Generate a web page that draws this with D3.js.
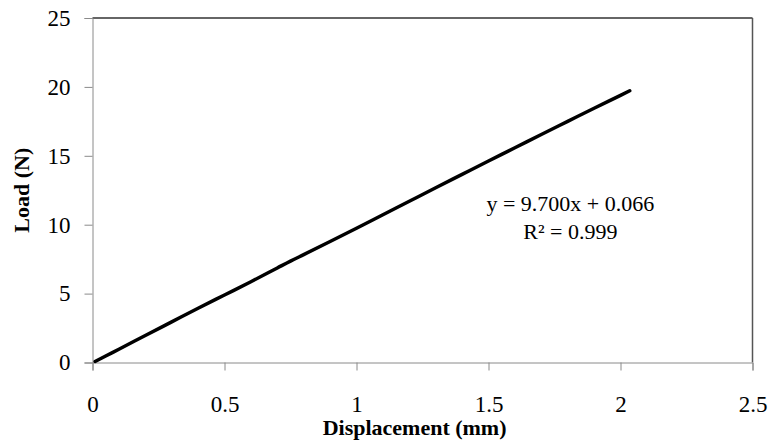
<!DOCTYPE html>
<html>
<head>
<meta charset="utf-8">
<script src="https://cdn.jsdelivr.net/npm/d3@7"></script>
<style>
  body { margin: 0; background: #fff; }
  text { font-family: "Liberation Serif", "Times New Roman", serif; fill: #000; }
</style>
</head>
<body>
<svg id="chart" width="768" height="441"></svg>
<script>
var displacement = [0.01, 0.05, 0.1, 0.2, 0.3, 0.4, 0.5, 0.6, 0.7, 0.75, 0.8, 0.9, 1.0,
                    1.1, 1.2, 1.3, 1.4, 1.5, 1.6, 1.7, 1.8, 1.9, 2.0, 2.035];
var load = [0.07, 0.47, 0.96, 1.96, 2.95, 3.94, 4.9, 5.86, 6.86, 7.36, 7.83, 8.78, 9.74,
            10.72, 11.7, 12.68, 13.65, 14.62, 15.58, 16.55, 17.5, 18.45, 19.39, 19.72];
var xTicks = [0, 0.5, 1, 1.5, 2, 2.5];
var yTicks = [0, 5, 10, 15, 20, 25];
var equation = ["y = 9.700x + 0.066", "R\u00b2 = 0.999"];

var svg = d3.select("#chart");
var margin = {top: 18, right: 15.5, bottom: 78.5, left: 92.5},
    width = 768 - margin.left - margin.right,
    height = 441 - margin.top - margin.bottom;

var x = d3.scaleLinear().domain([0, 2.5]).range([0, width]);
var y = d3.scaleLinear().domain([0, 25]).range([height, 0]);

var g = svg.append("g")
  .attr("transform", "translate(" + margin.left + "," + margin.top + ")");

// frame: top and right borders darker
g.append("line").attr("x1", 0).attr("x2", width).attr("y1", 0).attr("y2", 0)
  .attr("stroke", "#333").attr("stroke-width", 1.5);
g.append("line").attr("x1", width).attr("x2", width).attr("y1", 0).attr("y2", height)
  .attr("stroke", "#555").attr("stroke-width", 1.5);

// axes
var xAxis = g.append("g")
  .attr("transform", "translate(0," + height + ")")
  .call(d3.axisBottom(x).tickValues(xTicks).tickSize(8).tickPadding(25)
    .tickFormat(function(d) { return d; }));
var yAxis = g.append("g")
  .call(d3.axisLeft(y).tickValues(yTicks).tickSize(8).tickPadding(14));

[xAxis, yAxis].forEach(function(a) {
  a.select(".domain").attr("stroke", "#8a8a8a");
  a.selectAll(".tick line").attr("stroke", "#8a8a8a");
  a.selectAll("text").attr("font-size", 23).attr("font-family", "Liberation Serif");
});
xAxis.selectAll("text").attr("dy", "0.71em");

// data line
var line = d3.line()
  .x(function(d) { return x(d[0]); })
  .y(function(d) { return y(d[1]); })
  .curve(d3.curveMonotoneX);
g.append("path")
  .datum(d3.zip(displacement, load))
  .attr("d", line)
  .attr("fill", "none")
  .attr("stroke", "#000")
  .attr("stroke-width", 3.5)
  .attr("stroke-linecap", "round")
  .attr("stroke-linejoin", "round");

// trendline equation
g.selectAll(".eq")
  .data(equation)
  .enter().append("text")
  .attr("class", "eq")
  .attr("text-anchor", "middle")
  .attr("x", x(1.81))
  .attr("y", function(d, i) { return y(11.0) + i * 28; })
  .attr("font-size", 22)
  .text(function(d) { return d; });

// axis titles
svg.append("text")
  .attr("text-anchor", "middle")
  .attr("x", margin.left + x(1.22))
  .attr("y", 435)
  .attr("font-size", 22)
  .attr("font-weight", "bold")
  .text("Displacement (mm)");

svg.append("text")
  .attr("text-anchor", "middle")
  .attr("transform", "translate(29," + (margin.top + height / 2) + ") rotate(-90)")
  .attr("font-size", 22)
  .attr("font-weight", "bold")
  .text("Load (N)");
</script>
</body>
</html>
